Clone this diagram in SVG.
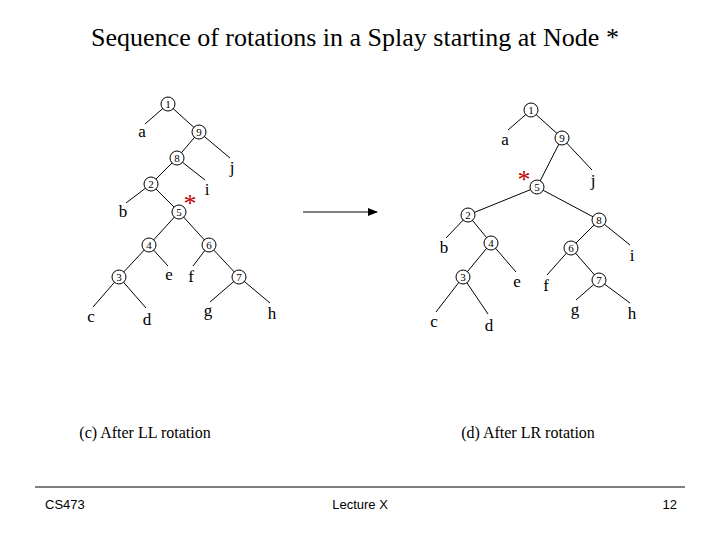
<svg xmlns="http://www.w3.org/2000/svg" width="720" height="540" viewBox="0 0 720 540">
<style>
.e line{stroke:#000;stroke-width:1}
.n circle{fill:#fff;stroke:#000;stroke-width:1}
.n text{font-family:"Liberation Serif",serif;font-size:11px;text-anchor:middle}
.l{font-family:"Liberation Serif",serif;font-size:17px;text-anchor:middle}
.s{font-family:"Liberation Serif",serif;font-size:26px;fill:#c00000;text-anchor:middle}
.f{font-family:"Liberation Sans",sans-serif;font-size:13px}
</style>
<defs><marker id="ar" markerWidth="10" markerHeight="8" refX="9" refY="4" orient="auto" markerUnits="userSpaceOnUse"><path d="M0,0L10,4L0,8z"/></marker></defs>
<rect width="720" height="540" fill="#fff"/>
<text x="355" y="46" font-family="Liberation Serif,serif" font-size="26" text-anchor="middle">Sequence of rotations in a Splay starting at Node *</text>
<g class="e">
<line x1="168" y1="104" x2="145" y2="124"/><line x1="168" y1="104" x2="199" y2="132"/>
<line x1="199" y1="132" x2="177" y2="158"/><line x1="199" y1="132" x2="230" y2="158"/>
<line x1="177" y1="158" x2="151" y2="184"/><line x1="177" y1="158" x2="205" y2="180"/>
<line x1="151" y1="184" x2="126" y2="203"/><line x1="151" y1="184" x2="179" y2="212"/>
<line x1="179" y1="212" x2="149" y2="245"/><line x1="179" y1="212" x2="209" y2="245"/>
<line x1="149" y1="245" x2="119" y2="277"/><line x1="149" y1="245" x2="168" y2="266"/>
<line x1="209" y1="245" x2="193" y2="266"/><line x1="209" y1="245" x2="239" y2="277"/>
<line x1="119" y1="277" x2="93" y2="307"/><line x1="119" y1="277" x2="146" y2="308"/>
<line x1="239" y1="277" x2="210" y2="302"/><line x1="239" y1="277" x2="270" y2="303"/>
<line x1="531" y1="110" x2="508" y2="130"/><line x1="531" y1="110" x2="562" y2="138"/>
<line x1="562" y1="138" x2="537" y2="187"/><line x1="562" y1="138" x2="592" y2="170"/>
<line x1="537" y1="187" x2="468" y2="215"/><line x1="537" y1="187" x2="599" y2="220"/>
<line x1="468" y1="215" x2="446" y2="238"/><line x1="468" y1="215" x2="491" y2="243"/>
<line x1="491" y1="243" x2="463" y2="277"/><line x1="491" y1="243" x2="516" y2="272"/>
<line x1="463" y1="277" x2="436" y2="312"/><line x1="463" y1="277" x2="488" y2="314"/>
<line x1="599" y1="220" x2="571" y2="248"/><line x1="599" y1="220" x2="630" y2="245"/>
<line x1="571" y1="248" x2="547" y2="275"/><line x1="571" y1="248" x2="599" y2="280"/>
<line x1="599" y1="280" x2="576" y2="300"/><line x1="599" y1="280" x2="630" y2="303"/>
<line x1="303" y1="212" x2="377" y2="212" marker-end="url(#ar)"/>
</g>
<g class="n">
<g id="L1"><circle cx="168" cy="104" r="7"/><text x="168" y="108">1</text></g>
<g id="L9"><circle cx="199" cy="132" r="7"/><text x="199" y="136">9</text></g>
<g id="L8"><circle cx="177" cy="158" r="7"/><text x="177" y="162">8</text></g>
<g id="L2"><circle cx="151" cy="184" r="7"/><text x="151" y="188">2</text></g>
<g id="L5"><circle cx="179" cy="212" r="7"/><text x="179" y="216">5</text></g>
<g id="L4"><circle cx="149" cy="245" r="7"/><text x="149" y="249">4</text></g>
<g id="L6"><circle cx="209" cy="245" r="7"/><text x="209" y="249">6</text></g>
<g id="L3"><circle cx="119" cy="277" r="7"/><text x="119" y="281">3</text></g>
<g id="L7"><circle cx="239" cy="277" r="7"/><text x="239" y="281">7</text></g>
<g id="R1"><circle cx="531" cy="110" r="7"/><text x="531" y="114">1</text></g>
<g id="R9"><circle cx="562" cy="138" r="7"/><text x="562" y="142">9</text></g>
<g id="R5"><circle cx="537" cy="187" r="7"/><text x="537" y="191">5</text></g>
<g id="R2"><circle cx="468" cy="215" r="7"/><text x="468" y="219">2</text></g>
<g id="R8"><circle cx="599" cy="220" r="7"/><text x="599" y="224">8</text></g>
<g id="R4"><circle cx="491" cy="243" r="7"/><text x="491" y="247">4</text></g>
<g id="R6"><circle cx="571" cy="248" r="7"/><text x="571" y="252">6</text></g>
<g id="R3"><circle cx="463" cy="277" r="7"/><text x="463" y="281">3</text></g>
<g id="R7"><circle cx="599" cy="280" r="7"/><text x="599" y="284">7</text></g>
</g>
<g id="labels">
<text class="l" x="142" y="137">a</text><text class="l" x="232" y="173">j</text><text class="l" x="207" y="195">i</text>
<text class="l" x="123" y="217">b</text><text class="l" x="169" y="280">e</text><text class="l" x="191" y="282">f</text>
<text class="l" x="91" y="322">c</text><text class="l" x="147" y="325">d</text><text class="l" x="208" y="316">g</text><text class="l" x="272" y="319">h</text>
<text class="s" x="190" y="212">*</text>
<text class="l" x="505" y="145">a</text><text class="l" x="593" y="186">j</text><text class="l" x="632" y="261">i</text>
<text class="l" x="444" y="253">b</text><text class="l" x="517" y="287">e</text><text class="l" x="546" y="291">f</text>
<text class="l" x="434" y="327">c</text><text class="l" x="489" y="331">d</text><text class="l" x="575" y="315">g</text><text class="l" x="632" y="319">h</text>
<text class="s" x="524" y="188">*</text>
</g>
<text x="145" y="438" font-family="Liberation Serif,serif" font-size="16" text-anchor="middle">(c) After LL rotation</text>
<text x="528" y="438" font-family="Liberation Serif,serif" font-size="16" text-anchor="middle">(d) After LR rotation</text>
<line x1="35" y1="487" x2="685" y2="487" stroke="#000"/>
<text class="f" x="45" y="509">CS473</text>
<text class="f" x="360" y="509" text-anchor="middle">Lecture X</text>
<text class="f" x="677" y="509" text-anchor="end">12</text>
</svg>
